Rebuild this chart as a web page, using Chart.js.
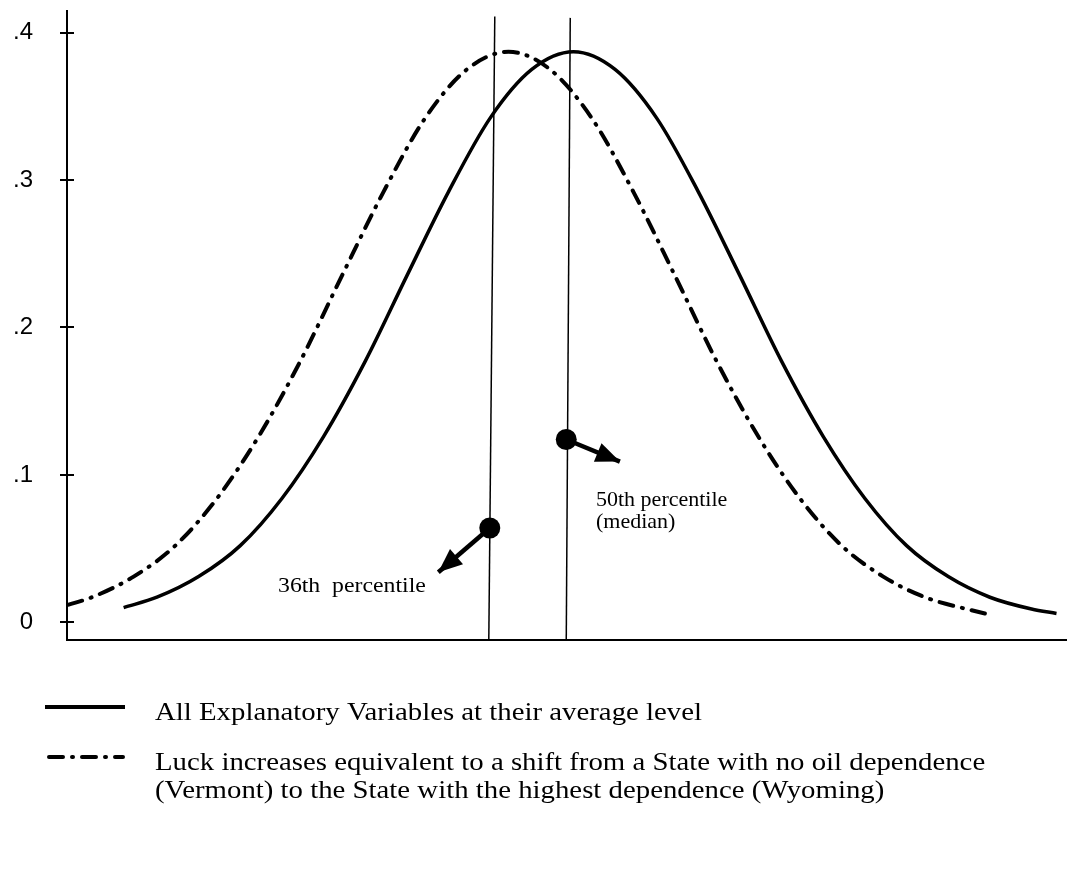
<!DOCTYPE html>
<html>
<head>
<meta charset="utf-8">
<title>Density shift</title>
<script src="https://cdn.jsdelivr.net/npm/chart.js@4.4.0/dist/chart.umd.min.js"></script>
<style>
  html, body { margin: 0; padding: 0; background: #fff; }
</style>
</head>
<body>
<canvas id="densityChart" width="1077" height="869"></canvas>
<script>
// y axis tick values
const yTicks = [0, 0.1, 0.2, 0.3, 0.4];

// solid curve - all explanatory variables at their average level
const avgX = [-2.7, -2.5, -2.25, -2, -1.75, -1.5, -1.25, -1, -0.75, -0.5, -0.25, 0,
              0.25, 0.5, 0.75, 1, 1.25, 1.5, 1.75, 2, 2.25, 2.5, 2.75, 2.9];
const avgY = [0.010, 0.017, 0.031, 0.052, 0.084, 0.126, 0.177, 0.235, 0.292, 0.342, 0.375, 0.387,
              0.375, 0.342, 0.292, 0.235, 0.177, 0.126, 0.084, 0.052, 0.031, 0.017, 0.009, 0.006];

// dash-dot curve - luck shift (Vermont -> Wyoming)
const luckX = [-3.03, -2.89, -2.64, -2.39, -2.14, -1.89, -1.64, -1.39, -1.14, -0.89, -0.64, -0.39,
               -0.14, 0.11, 0.36, 0.61, 0.86, 1.11, 1.36, 1.61, 1.86, 2.11, 2.36, 2.47];
const luckY = [0.012, 0.017, 0.031, 0.052, 0.084, 0.126, 0.177, 0.235, 0.292, 0.342, 0.375, 0.387,
               0.375, 0.342, 0.292, 0.235, 0.177, 0.126, 0.084, 0.052, 0.031, 0.017, 0.009, 0.006];

// percentile lines (bottom, top)
const p36LineX = [-0.508, -0.472];
const p36LineY = [-0.012, 0.411];
const p50LineX = [-0.043, -0.019];
const p50LineY = [-0.012, 0.410];

// arrows (dot, tip)
const p36ArrowX = [-0.502, -0.811];
const p36ArrowY = [0.064, 0.034];
const p50ArrowX = [-0.043, 0.279];
const p50ArrowY = [0.124, 0.109];

const legendLabels = [
    ['All Explanatory Variables at their average level'],
    ['Luck increases equivalent to a shift from a State with no oil dependence',
     '(Vermont) to the State with the highest dependence (Wyoming)']
];

function toPoints(xs, ys) {
    return xs.map((x, i) => ({ x: x, y: ys[i] }));
}

const SERIF = '"Liberation Serif", "Times New Roman", serif';
const DASH_DOT = [14, 9, 1, 9];

// draw text a bit wider, the original uses a Garamond-like face
function wideText(ctx, text, x, y, sx) {
    ctx.save();
    ctx.translate(x, y);
    ctx.scale(sx, 1);
    ctx.fillText(text, 0, 0);
    ctx.restore();
}

// arrowheads, inner tick halves, annotations and legend
const extrasPlugin = {
    id: 'extras',
    afterDatasetsDraw(chart) {
        const ctx = chart.ctx;
        [4, 5].forEach(idx => {
            const pts = chart.getDatasetMeta(idx).data;
            const x0 = pts[0].x, y0 = pts[0].y, x1 = pts[1].x, y1 = pts[1].y;
            const ang = Math.atan2(y1 - y0, x1 - x0);
            const len = 24, half = 10;
            ctx.save();
            ctx.fillStyle = '#000';
            ctx.beginPath();
            ctx.moveTo(x1, y1);
            ctx.lineTo(x1 - len * Math.cos(ang) + half * Math.sin(ang), y1 - len * Math.sin(ang) - half * Math.cos(ang));
            ctx.lineTo(x1 - len * Math.cos(ang) - half * Math.sin(ang), y1 - len * Math.sin(ang) + half * Math.cos(ang));
            ctx.closePath();
            ctx.fill();
            ctx.restore();
        });
    },
    afterDraw(chart) {
        const ctx = chart.ctx;
        const area = chart.chartArea;
        const yScale = chart.scales.y;
        ctx.save();
        ctx.strokeStyle = '#000';
        ctx.lineWidth = 2;
        yTicks.forEach(v => {
            const py = Math.round(yScale.getPixelForValue(v));
            ctx.beginPath();
            ctx.moveTo(area.left, py);
            ctx.lineTo(area.left + 7, py);
            ctx.stroke();
        });

        // annotations
        ctx.fillStyle = '#000';
        ctx.textBaseline = 'alphabetic';
        ctx.font = '22px ' + SERIF;
        wideText(ctx, '36th  percentile', 278, 592, 1.08);
        wideText(ctx, '50th percentile', 596, 506, 1.0);
        wideText(ctx, '(median)', 596, 528, 1.0);

        // legend samples
        ctx.lineWidth = 4;
        ctx.beginPath();
        ctx.moveTo(45, 707);
        ctx.lineTo(125, 707);
        ctx.stroke();
        ctx.lineCap = 'round';
        ctx.setLineDash(DASH_DOT);
        ctx.beginPath();
        ctx.moveTo(49, 757);
        ctx.lineTo(123, 757);
        ctx.stroke();
        ctx.setLineDash([]);

        // legend text, stretched to the width of the first line in the original
        ctx.font = '26px ' + SERIF;
        const sx = 547 / ctx.measureText(legendLabels[0][0]).width;
        wideText(ctx, legendLabels[0][0], 155, 720, sx);
        wideText(ctx, legendLabels[1][0], 155, 770, sx);
        wideText(ctx, legendLabels[1][1], 155, 798, sx);
        ctx.restore();
    }
};

const ctx = document.getElementById('densityChart').getContext('2d');
const densityChart = new Chart(ctx, {
    type: 'scatter',
    data: {
        datasets: [
            {
                label: 'All Explanatory Variables at their average level',
                data: toPoints(avgX, avgY),
                showLine: true,
                borderColor: '#000',
                borderWidth: 3.5,
                pointRadius: 0,
                cubicInterpolationMode: 'monotone'
            },
            {
                label: 'Luck increases',
                data: toPoints(luckX, luckY),
                showLine: true,
                borderColor: '#000',
                borderWidth: 4,
                borderDash: DASH_DOT,
                borderCapStyle: 'round',
                pointRadius: 0,
                cubicInterpolationMode: 'monotone'
            },
            {
                label: '36th percentile',
                data: toPoints(p36LineX, p36LineY),
                showLine: true,
                borderColor: '#000',
                borderWidth: 1.5,
                pointRadius: 0
            },
            {
                label: '50th percentile',
                data: toPoints(p50LineX, p50LineY),
                showLine: true,
                borderColor: '#000',
                borderWidth: 1.5,
                pointRadius: 0
            },
            {
                label: '36th arrow',
                data: toPoints(p36ArrowX, p36ArrowY),
                showLine: true,
                borderColor: '#000',
                borderWidth: 4.5,
                pointRadius: [10.5, 0],
                pointBackgroundColor: '#000',
                pointBorderWidth: 0
            },
            {
                label: '50th arrow',
                data: toPoints(p50ArrowX, p50ArrowY),
                showLine: true,
                borderColor: '#000',
                borderWidth: 4.5,
                pointRadius: [10.5, 0],
                pointBackgroundColor: '#000',
                pointBorderWidth: 0
            }
        ]
    },
    options: {
        responsive: false,
        animation: false,
        layout: {
            padding: { left: 0, top: 8, right: 3, bottom: 229 }
        },
        plugins: {
            legend: { display: false },
            tooltip: { enabled: false }
        },
        scales: {
            x: {
                type: 'linear',
                min: -3.04,
                max: 2.96,
                ticks: { display: false },
                grid: { display: false },
                border: { display: true, color: '#000', width: 2 },
                afterFit: s => { s.height = 0; s.paddingLeft = 0; s.paddingRight = 0; }
            },
            y: {
                type: 'linear',
                min: -0.012,
                max: 0.415,
                afterBuildTicks: s => { s.ticks = yTicks.map(v => ({ value: v })); },
                ticks: {
                    color: '#000',
                    padding: 27,
                    font: { family: '"Liberation Sans", Arial, sans-serif', size: 24 },
                    callback: v => v === 0 ? '0' : v.toFixed(1).replace(/^0/, '')
                },
                grid: {
                    display: true,
                    drawOnChartArea: false,
                    drawTicks: true,
                    tickLength: 7,
                    color: '#000',
                    lineWidth: 2
                },
                border: { display: true, color: '#000', width: 2 },
                afterFit: s => { s.width = 67; s.paddingTop = 0; s.paddingBottom = 0; }
            }
        }
    },
    plugins: [extrasPlugin]
});
</script>
</body>
</html>
